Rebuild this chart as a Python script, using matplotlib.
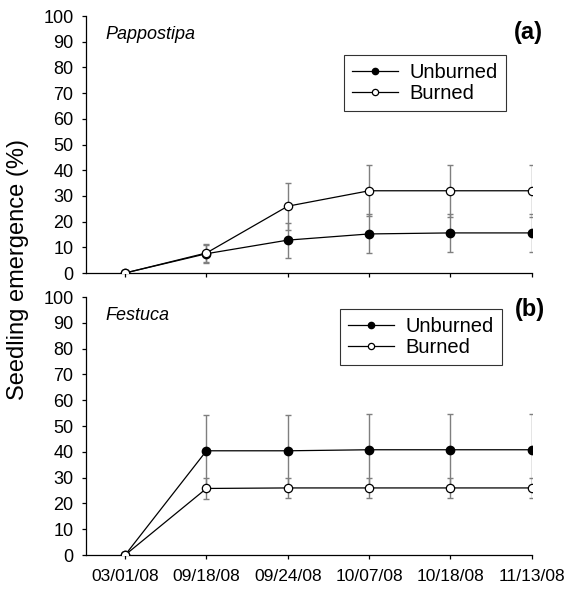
import numpy as np
import matplotlib.pyplot as plt

plt.rcParams['font.family'] = ['Liberation Sans', 'DejaVu Sans']

# Data
dates = ["03/01/08", "09/18/08", "09/24/08", "10/07/08", "10/18/08", "11/13/08"]

pap_unburned = [0, 7.5, 12.8, 15.2, 15.6, 15.6]
pap_unburned_err = [0, 3.5, 6.8, 7.6, 7.5, 7.5]
pap_burned = [0, 7.8, 26.0, 32.0, 32.0, 32.0]
pap_burned_err = [0, 3.6, 9.2, 10.0, 10.2, 10.2]

fes_unburned = [0, 40.4, 40.4, 40.8, 40.8, 40.8]
fes_unburned_err = [0, 14.0, 14.0, 14.0, 14.0, 14.0]
fes_burned = [0, 25.8, 26.0, 26.0, 26.0, 26.0]
fes_burned_err = [0, 4.0, 4.0, 4.0, 4.0, 4.0]

panels = [
    ("Pappostipa", pap_unburned, pap_unburned_err, pap_burned, pap_burned_err, (0.942, 0.848)),
    ("Festuca", fes_unburned, fes_unburned_err, fes_burned, fes_burned_err, (0.933, 0.953)),
]

fig = plt.figure(figsize=(5.70, 5.89), dpi=100)
ax_a = fig.add_axes([0.151, 0.5365, 0.782, 0.4363])
ax_b = fig.add_axes([0.151, 0.0577, 0.782, 0.438])

x = np.arange(len(dates))
err_color = "#7f7f7f"

for ax, (species, unb, unb_err, bur, bur_err, leg_pos) in zip([ax_a, ax_b], panels):
    ax.errorbar(x, unb, yerr=unb_err, fmt="none", ecolor=err_color,
                elinewidth=1, capsize=2.3, capthick=1, zorder=1)
    ax.errorbar(x, bur, yerr=bur_err, fmt="none", ecolor=err_color,
                elinewidth=1, capsize=2.3, capthick=1, zorder=1)
    ax.plot(x, unb, "-o", color="black", lw=0.9, markersize=6,
            markerfacecolor="black", markeredgecolor="black", label="Unburned", zorder=3)
    ax.plot(x, bur, "-o", color="black", lw=0.9, markersize=6,
            markerfacecolor="white", markeredgecolor="black", markeredgewidth=0.9,
            label="Burned", zorder=3)

    ax.set_xlim(-0.48, 5.0)
    ax.set_ylim(0, 100)
    ax.set_yticks(np.arange(0, 101, 10))
    ax.set_xticks(x)
    ax.spines["top"].set_visible(False)
    ax.spines["right"].set_visible(False)
    ax.spines["left"].set_linewidth(0.9)
    ax.spines["bottom"].set_linewidth(0.9)
    ax.tick_params(axis="both", direction="out", length=3, width=0.9)
    ax.tick_params(axis="y", labelsize=13, pad=6)
    ax.tick_params(axis="x", labelsize=12.5, pad=7)

    ax.text(0.043, 0.928, species, transform=ax.transAxes, style="italic",
            fontsize=13, va="center", ha="left")

    leg = ax.legend(loc="upper right", bbox_to_anchor=leg_pos, frameon=True,
                    fancybox=False, edgecolor="black", fontsize=14.5,
                    handlelength=2.25, borderpad=0.4, labelspacing=0.1,
                    handletextpad=0.6, borderaxespad=0, markerscale=0.75)
    leg.get_frame().set_linewidth(0.8)

ax_a.set_xticklabels([])
ax_b.set_xticklabels(dates)

fig.text(0.927, 0.944, "(a)", fontsize=17, fontweight="bold", ha="center", va="center")
fig.text(0.929, 0.475, "(b)", fontsize=17, fontweight="bold", ha="center", va="center")
fig.text(0.031, 0.543, "Seedling emergence (%)", rotation=90, fontsize=17,
         ha="center", va="center")

fig.savefig("out.png", dpi=100)
